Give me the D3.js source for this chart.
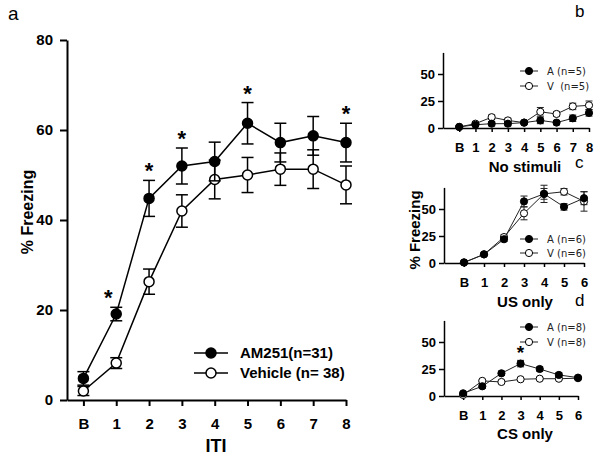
<!DOCTYPE html>
<html><head><meta charset="utf-8">
<script src="https://cdn.jsdelivr.net/npm/d3@7"></script>
<style>body{margin:0;background:#fff}svg{display:block}text{font-family:"Liberation Sans",Arial,sans-serif}</style>
</head><body>
<svg id="c" width="600" height="457"></svg>
<script>
// ---- data ----
const catsA = ["B","1","2","3","4","5","6","7","8"];
const am251 = [4.8, 19.1, 44.8, 52.0, 53.0, 61.5, 57.2, 58.7, 57.2];
const am251Err = [1.5, 1.5, 4.0, 4.0, 4.3, 4.6, 4.3, 4.3, 4.3];
const vehicle = [2.0, 8.2, 26.3, 42.0, 49.0, 50.0, 51.3, 51.3, 47.8];
const vehicleErr = [1.0, 1.2, 2.8, 3.6, 4.3, 3.9, 3.6, 4.3, 4.2];
const sigA = [1, 2, 3, 5, 8];
const ticksA = [0, 20, 40, 60, 80];

const catsB = ["B","1","2","3","4","5","6","7","8"];
const bA = [1, 3, 4, 4, 5, 7, 5, 9, 14];
const bAErr = [1, 1, 2, 2, 1, 3, 2, 3, 3];
const bV = [1, 4, 10, 7, 5, 15, 13, 20, 21];
const bVErr = [1, 1, 2, 2, 1, 4, 2, 3, 4];

const catsC = ["B","1","2","3","4","5","6"];
const cA = [0.5, 8, 22, 57, 64, 52, 60];
const cAErr = [1, 1, 2, 5, 5, 3, 6];
const cV = [0.5, 8, 24, 46, 64, 66, 57];
const cVErr = [1, 1, 2, 6, 8, 3, 9];

const catsD = ["B","1","2","3","4","5","6"];
const dA = [2.5, 9, 21, 30, 25, 19.5, 17];
const dAErr = [1, 2, 2, 3, 2, 2, 1];
const dV = [1, 14, 13, 15.5, 16, 16, 16.5];
const dVErr = [1, 1, 1, 1, 1, 1, 1];
const sigD = [3];
const ticksSmall = [0, 25, 50];

const svg = d3.select("#c");

function panel(o) {
  const g = svg.append("g");
  const x = d3.scaleLinear().domain([-o.pad, o.cats.length - 1]).range(o.xr);
  const y = d3.scaleLinear().domain(o.yd).range(o.yr);
  // axes
  const ya = d3.axisLeft(y).tickValues(o.ticks).tickSize(o.tk).tickPadding(o.tp).tickSizeOuter(0);
  const yg = g.append("g").attr("transform", `translate(${o.xr[0]},0)`).call(ya);
  const xa = d3.axisBottom(x).tickValues(d3.range(o.cats.length)).tickFormat(i => o.cats[i])
    .tickSize(o.tkx).tickPadding(o.tpx).tickSizeOuter(0);
  const xg = g.append("g").attr("transform", `translate(0,${o.yr[0]})`).call(xa);
  [yg, xg].forEach(a => {
    a.select(".domain").attr("stroke", "#000").attr("stroke-width", o.aw);
    a.selectAll(".tick line").attr("stroke", "#000").attr("stroke-width", o.aw);
    a.selectAll(".tick text").attr("fill", "#000").style("font-size", o.fs + "px").style("font-weight", "bold")
      .style("font-family", '"Liberation Sans",Arial,sans-serif');
  });
  // series: vehicle (open) first, then filled on top
  const line = d3.line().x((d, i) => x(i)).y(d => y(d));
  [[o.v, o.ve, "#fff"], [o.a, o.ae, "#000"]].forEach(([vals, err, fill]) => {
    g.append("path").datum(vals).attr("d", line).attr("fill", "none")
      .attr("stroke", o.lc).attr("stroke-width", o.lw);
    const eb = g.append("g");
    vals.forEach((v, i) => {
      const cx = x(i), t = y(v + err[i]), b = y(Math.max(0, v - err[i]));
      eb.append("line").attr("x1", cx).attr("x2", cx).attr("y1", t).attr("y2", b);
      eb.append("line").attr("x1", cx - o.cap).attr("x2", cx + o.cap).attr("y1", t).attr("y2", t);
      eb.append("line").attr("x1", cx - o.cap).attr("x2", cx + o.cap).attr("y1", b).attr("y2", b);
    });
    eb.selectAll("line").attr("stroke", o.lc).attr("stroke-width", o.lw);
    g.append("g").selectAll("circle").data(vals).join("circle")
      .attr("cx", (d, i) => x(i)).attr("cy", d => y(d)).attr("r", o.r)
      .attr("fill", fill).attr("stroke", "#000").attr("stroke-width", o.lw);
  });
  // significance
  (o.sig || []).forEach(i => {
    g.append("text").attr("x", x(i) + (o.sigdx && o.sigdx[i] || 0)).attr("y", y(o.a[i] + o.ae[i]) - o.sigoff)
      .attr("text-anchor", "middle").style("font-size", o.sfs + "px").style("font-weight", "bold").text("*");
  });
  // legend
  o.leg.forEach((l, k) => {
    const ly = o.legY[k];
    g.append("line").attr("x1", o.legX[0]).attr("x2", o.legX[1]).attr("y1", ly).attr("y2", ly)
      .attr("stroke", o.lc).attr("stroke-width", o.lw);
    g.append("circle").attr("cx", (o.legX[0] + o.legX[1]) / 2).attr("cy", ly).attr("r", o.r)
      .attr("fill", k === 0 ? "#000" : "#fff").attr("stroke", "#000").attr("stroke-width", o.lw);
    g.append("text").attr("x", o.legTx).attr("y", ly).attr("dy", "0.35em")
      .style("font-size", o.lfs + "px").style("font-weight", o.lfw).style("font-family", o.lff)
      .attr("fill", o.ltc).attr("xml:space", "preserve").text(l);
  });
  // x title
  g.append("text").attr("x", o.xtX).attr("y", o.xtY).attr("text-anchor", "middle")
    .style("font-size", o.xtfs + "px").style("font-weight", "bold").text(o.xt);
  // panel letter
  g.append("text").attr("x", o.pl[0]).attr("y", o.pl[1]).style("font-size", o.plfs + "px").text(o.plt);
}

panel({cats: catsA, pad: 0.5, xr: [67, 346], yd: [0, 80], yr: [400, 40], ticks: ticksA,
  tk: 7, tp: 7, tkx: 6, tpx: 12, aw: 2, fs: 15, lc: "#000", lw: 1.5, cap: 6, r: 5,
  a: am251, ae: am251Err, v: vehicle, ve: vehicleErr, sig: sigA, sigdx: {1: -8}, sigoff: 2, sfs: 22,
  leg: ["AM251(n=31)", "Vehicle (n= 38)"], legY: [353, 373], legX: [194, 228], legTx: 240,
  lfs: 15, lfw: "bold", lff: '"Liberation Sans",Arial,sans-serif', ltc: "#000",
  xt: "ITI", xtX: 216, xtY: 452, xtfs: 18, pl: [8, 20], plfs: 19, plt: "a"});

const small = {pad: 1, ticks: ticksSmall, yd: [0, 70], tk: 5, tp: 3, tkx: 4, tpx: 11, aw: 1.5, fs: 13,
  lc: "#222", lw: 1, cap: 3.5, r: 3.6, sigoff: 1, sfs: 19, legX: [520, 538], legTx: 547,
  lfs: 10, lfw: "normal", lff: '"DejaVu Sans",sans-serif', ltc: "#222", xtX: 525, xtfs: 15, plfs: 17};

panel(Object.assign({}, small, {cats: catsB, xr: [443, 589], yr: [128, 52.4], a: bA, ae: bAErr, v: bV, ve: bVErr,
  leg: ["A (n=5)", "V  (n=5)"], legY: [71, 86], xt: "No stimuli", xtY: 172, pl: [575, 17], plt: "b"}));
panel(Object.assign({}, small, {cats: catsC, xr: [444, 584], yr: [263, 187.4], a: cA, ae: cAErr, v: cV, ve: cVErr,
  leg: ["A (n=6)", "V (n=6)"], legY: [239, 253], xt: "US only", xtY: 307, pl: [575, 168], plt: "c"}));
panel(Object.assign({}, small, {cats: catsD, xr: [444, 578], yr: [396, 320.4], a: dA, ae: dAErr, v: dV, ve: dVErr,
  sig: sigD, leg: ["A (n=8)", "V (n=8)"], legY: [327, 342], xt: "CS only", xtY: 439, pl: [575, 306], plt: "d"}));

// y titles
svg.append("text").attr("transform", "translate(33,212) rotate(-90)").attr("text-anchor", "middle")
  .style("font-size", "16px").style("font-weight", "bold").text("% Freezing");
svg.append("text").attr("transform", "translate(420,230) rotate(-90)").attr("text-anchor", "middle")
  .style("font-size", "15px").style("font-weight", "bold").text("% Freezing");
</script>
</body></html>
